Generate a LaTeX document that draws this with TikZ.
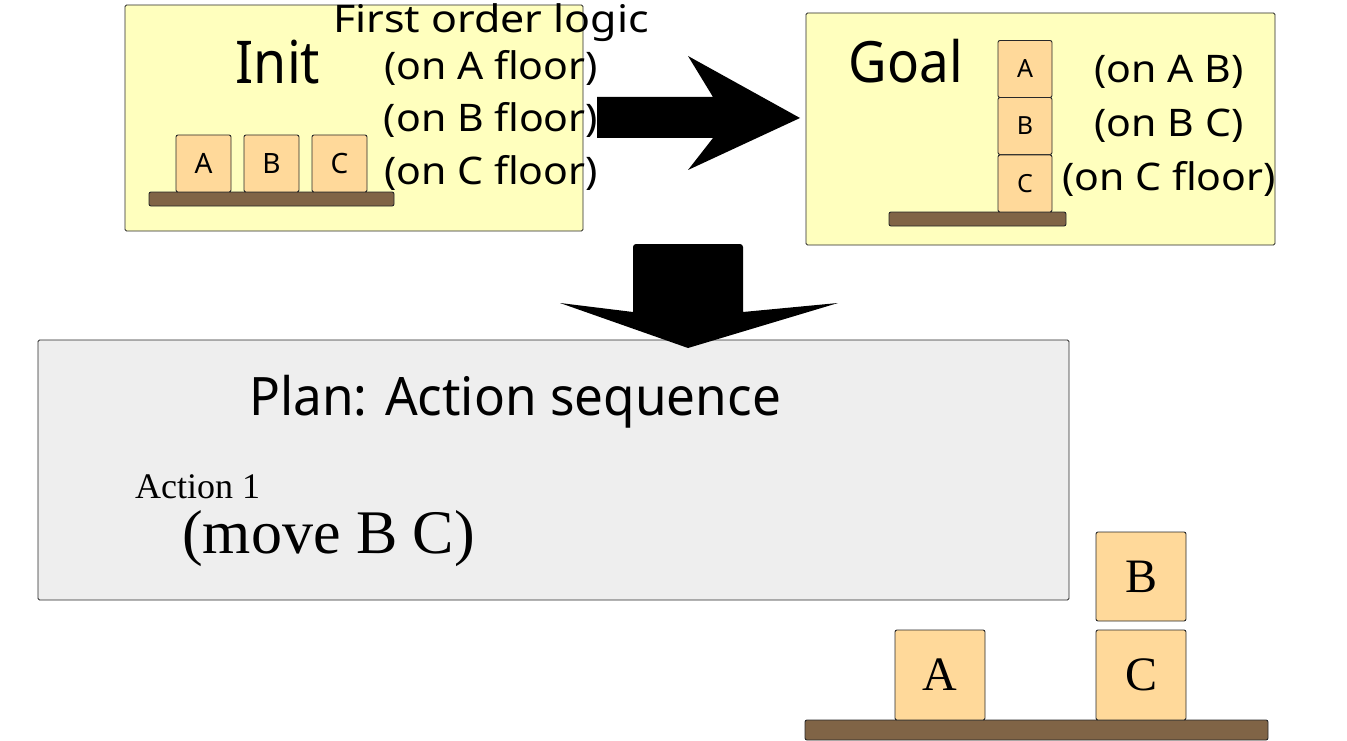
\documentclass[tikz,border=0pt]{standalone}
\usepackage{fontspec}
\setmainfont{Liberation Serif}
\newfontfamily\notosans{Noto Sans}
\newfontfamily\nslabel[FakeStretch=1.08]{Noto Sans}
\newfontfamily\nsfol[FakeStretch=1.13]{Noto Sans}
\newfontfamily\nsinit[FakeStretch=0.91]{Noto Sans}
\newfontfamily\nsgoal[FakeStretch=0.93]{Noto Sans}
\newfontfamily\nsplan[FakeStretch=0.967]{Noto Sans}
\definecolor{boxyellow}{RGB}{255,255,190}
\definecolor{plangray}{RGB}{238,238,238}
\definecolor{blockc}{RGB}{255,217,154}
\definecolor{floorc}{RGB}{128,100,70}
\definecolor{edgec}{RGB}{40,40,40}
\begin{document}
\begin{tikzpicture}[x=1pt,y=-1pt,
  panel/.style={draw=edgec, line width=0.9pt, rounded corners=1.5pt, inner sep=0pt, anchor=center},
  blk/.style={draw=edgec, line width=0.9pt, fill=blockc, rounded corners=2pt, inner sep=0pt, anchor=center},
  floorbar/.style={draw=edgec, line width=0.9pt, fill=floorc, rounded corners=2pt, inner sep=0pt, anchor=center},
  lbl/.style={inner sep=0pt, anchor=base, font=\nslabel\fontsize{38}{40}\selectfont},
  bigarrow/.style={fill=black, draw=none}
]
\useasboundingbox (0,0) rectangle (1347,741);

% Init panel
\node[panel, fill=boxyellow, minimum width=458pt, minimum height=226pt] (init) at (354,118) {};
\node[inner sep=0pt, anchor=base, font=\nsinit\fontsize{59}{60}\selectfont] (inittxt) at (278,84) {Init};
\node[floorbar, minimum width=245pt, minimum height=14pt] (ifloor) at (271.5,199) {};
\node[blk, minimum width=55pt, minimum height=57pt, font=\notosans\fontsize{28}{30}\selectfont] (ia) at (203.5,163.5) {A};
\node[blk, minimum width=55pt, minimum height=57pt, font=\notosans\fontsize{28}{30}\selectfont] (ib) at (271.5,163.5) {B};
\node[blk, minimum width=55pt, minimum height=57pt, font=\notosans\fontsize{28}{30}\selectfont] (ic) at (339.5,163.5) {C};
\node[inner sep=0pt, anchor=base, font=\nsfol\fontsize{38}{40}\selectfont] (fol) at (491,33) {First order logic};
\node[lbl] (i1) at (491,80) {(on A floor)};
\node[lbl] (i2) at (491,132) {(on B floor)};
\node[lbl] (i3) at (491,184) {(on C floor)};

% Goal panel
\node[panel, fill=boxyellow, minimum width=469pt, minimum height=232pt] (goal) at (1040.5,129) {};
\node[inner sep=0pt, anchor=base, font=\nsgoal\fontsize{57}{60}\selectfont] (goaltxt) at (906,83) {Goal};
\node[floorbar, minimum width=177pt, minimum height=14pt] (gfloor) at (977.5,219) {};
\node[blk, minimum width=54pt, minimum height=57pt, font=\notosans\fontsize{25}{27}\selectfont] (ga) at (1025,69) {A};
\node[blk, minimum width=54pt, minimum height=57pt, font=\notosans\fontsize{25}{27}\selectfont] (gb) at (1025,126) {B};
\node[blk, minimum width=54pt, minimum height=57pt, font=\notosans\fontsize{25}{27}\selectfont] (gc) at (1025,183.5) {C};
\node[lbl] (g1) at (1169,83) {(on A B)};
\node[lbl] (g2) at (1169,137) {(on B C)};
\node[lbl] (g3) at (1169,190) {(on C floor)};

% right arrow
\path[bigarrow] (597,97) -- (713,97) -- (688,56) -- (800,118) -- (688,170) -- (713,138) -- (597,138) -- cycle;

% Plan panel
\node[panel, fill=plangray, minimum width=1031pt, minimum height=260pt] (plan) at (553.5,470) {};
\node[inner sep=0pt, anchor=base, font=\nsplan\fontsize{53}{55}\selectfont] (plantxt) at (515,415) {Plan: Action sequence};
\node[inner sep=0pt, anchor=base west, font=\fontsize{36}{38}\selectfont] (act1) at (135,498) {Action 1};
\node[inner sep=0pt, anchor=base west, font=\fontsize{62}{64}\selectfont] (move) at (182,553) {(move B C)};

% down arrow
\path[bigarrow] (633,248) [rounded corners=3pt] -- (633,244) -- (743,244) [sharp corners] -- (743,312) -- (838,303) -- (688,348) -- (560,303) -- (633,312) -- cycle;

% Result state
\node[floorbar, minimum width=463pt, minimum height=20pt] (rfloor) at (1036.5,730) {};
\node[blk, minimum width=90pt, minimum height=90pt, font=\fontsize{48}{50}\selectfont] (ra) at (940,675) {A};
\node[blk, minimum width=90pt, minimum height=90pt, font=\fontsize{48}{50}\selectfont] (rc) at (1141,675) {C};
\node[blk, minimum width=90pt, minimum height=89pt, font=\fontsize{48}{50}\selectfont] (rb) at (1141,576.5) {B};
\end{tikzpicture}
\end{document}
